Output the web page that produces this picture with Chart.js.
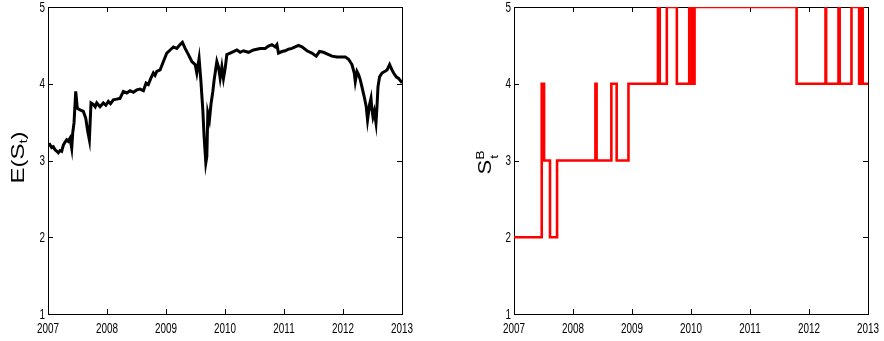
<!DOCTYPE html>
<html>
<head>
<meta charset="utf-8">
<script src="https://cdn.jsdelivr.net/npm/chart.js@4"></script>
<style>
  html, body { margin: 0; padding: 0; background: #fff; }
  #wrap { position: relative; width: 884px; height: 341px; }
  canvas { position: absolute; top: 0; }
  #chartExp { left: 0; }
  #chartState { left: 442px; }
</style>
</head>
<body>
<div id="wrap">
  <canvas id="chartExp" width="442" height="341"></canvas>
  <canvas id="chartState" width="442" height="341"></canvas>
</div>
<script>
/* ── Data ───────────────────────────────────────── */
const yearTicks = [2007, 2008, 2009, 2010, 2011, 2012, 2013];
const levelTicks = [1, 2, 3, 4, 5];

// E(S_t): expected state
const expTime = [
    2007.000, 2007.030, 2007.063, 2007.090, 2007.119, 2007.150, 2007.175, 2007.205, 2007.232, 2007.260,
    2007.290, 2007.317, 2007.344, 2007.373, 2007.402, 2007.419, 2007.441, 2007.470, 2007.497, 2007.543,
    2007.599, 2007.640, 2007.673, 2007.701, 2007.729, 2007.768, 2007.800, 2007.826, 2007.882, 2007.938,
    2007.980, 2008.023, 2008.060, 2008.108, 2008.165, 2008.221, 2008.277, 2008.335, 2008.391, 2008.447,
    2008.505, 2008.560, 2008.617, 2008.662, 2008.701, 2008.742, 2008.786, 2008.815, 2008.844, 2008.900,
    2008.956, 2009.014, 2009.070, 2009.126, 2009.183, 2009.239, 2009.278, 2009.324, 2009.380, 2009.438,
    2009.494, 2009.522, 2009.561, 2009.590, 2009.624, 2009.646, 2009.675, 2009.692, 2009.709, 2009.736,
    2009.765, 2009.794, 2009.816, 2009.862, 2009.889, 2009.918, 2009.947, 2009.974, 2010.003, 2010.031,
    2010.087, 2010.143, 2010.201, 2010.257, 2010.313, 2010.398, 2010.483, 2010.596, 2010.681, 2010.737,
    2010.795, 2010.851, 2010.880, 2010.907, 2010.964, 2011.020, 2011.076, 2011.134, 2011.190, 2011.246,
    2011.304, 2011.389, 2011.473, 2011.546, 2011.602, 2011.670, 2011.728, 2011.813, 2011.897, 2011.982,
    2012.038, 2012.094, 2012.152, 2012.191, 2012.208, 2012.237, 2012.264, 2012.293, 2012.321, 2012.360,
    2012.394, 2012.416, 2012.450, 2012.474, 2012.491, 2012.508, 2012.530, 2012.559, 2012.576, 2012.593,
    2012.620, 2012.661, 2012.705, 2012.747, 2012.790, 2012.830, 2012.858, 2012.903, 2012.942, 2012.983,
    2013.000
];
const expValue = [
    3.20, 3.21, 3.17, 3.18, 3.14, 3.12, 3.10, 3.13, 3.12, 3.20,
    3.24, 3.27, 3.25, 3.29, 3.16, 3.36, 3.49, 3.90, 3.68, 3.66,
    3.64, 3.55, 3.38, 3.27, 3.75, 3.73, 3.70, 3.75, 3.70, 3.75,
    3.72, 3.77, 3.74, 3.79, 3.80, 3.81, 3.90, 3.88, 3.91, 3.89,
    3.92, 3.93, 3.91, 4.01, 3.99, 4.07, 4.14, 4.11, 4.16, 4.18,
    4.29, 4.40, 4.44, 4.48, 4.46, 4.51, 4.54, 4.46, 4.38, 4.29,
    4.25, 4.14, 4.33, 4.05, 3.66, 3.31, 2.97, 3.05, 3.62, 3.53,
    3.75, 3.90, 4.05, 4.29, 4.22, 4.07, 4.22, 4.07, 4.20, 4.38,
    4.40, 4.42, 4.44, 4.41, 4.43, 4.41, 4.44, 4.46, 4.46, 4.49,
    4.51, 4.48, 4.51, 4.40, 4.42, 4.43, 4.45, 4.46, 4.48, 4.50,
    4.48, 4.43, 4.40, 4.36, 4.42, 4.41, 4.39, 4.36, 4.35, 4.35,
    4.35, 4.32, 4.25, 4.14, 4.03, 4.16, 4.12, 4.05, 3.96, 3.83,
    3.70, 3.53, 3.73, 3.81, 3.66, 3.57, 3.64, 3.49, 3.70, 3.96,
    4.09, 4.14, 4.16, 4.18, 4.25, 4.18, 4.14, 4.09, 4.07, 4.03,
    4.05
];

// S_t^B: regime state, each entry starts at its time (step chart)
const stateTime = [
    2007.00, 2007.47, 2007.51, 2007.61, 2007.73, 2008.38, 2008.40, 2008.65, 2008.74, 2008.94,
    2009.44, 2009.47, 2009.59, 2009.76, 2009.97, 2009.99, 2010.01, 2010.03, 2010.06, 2011.79,
    2012.28, 2012.29, 2012.50, 2012.52, 2012.72, 2012.85, 2012.89, 2012.91, 2013.00
];
const stateValue = [
    2, 4, 3, 2, 3, 4, 3, 4, 3, 4,
    5, 4, 5, 4, 5, 4, 5, 4, 5, 4,
    5, 4, 5, 4, 5, 4, 5, 4, 4
];

/* ── MATLAB-like frame, inward ticks, narrow labels ── */
const TICK_FONT = '15px "Liberation Sans", Arial, sans-serif';
const TICK_SQUEEZE = 0.66;

function matlabFrame(drawTitle) {
    return {
        id: 'matlabFrame',
        beforeDatasetsDraw(chart) {
            const { ctx, chartArea: a, scales: { x, y } } = chart;
            ctx.save();
            ctx.strokeStyle = '#000';
            ctx.lineWidth = 1;
            ctx.strokeRect(Math.round(a.left) + 0.5, Math.round(a.top) + 0.5,
                Math.round(a.right - a.left), Math.round(a.bottom - a.top));
            ctx.beginPath();
            yearTicks.forEach(v => {
                const px = Math.round(x.getPixelForValue(v)) + 0.5;
                ctx.moveTo(px, a.bottom); ctx.lineTo(px, a.bottom - 5);
                ctx.moveTo(px, a.top); ctx.lineTo(px, a.top + 5);
            });
            levelTicks.forEach(v => {
                const py = Math.round(y.getPixelForValue(v)) + 0.5;
                ctx.moveTo(a.left, py); ctx.lineTo(a.left + 5, py);
                ctx.moveTo(a.right, py); ctx.lineTo(a.right - 5, py);
            });
            ctx.stroke();
            ctx.restore();
        },
        afterDraw(chart) {
            const { ctx, chartArea: a, scales: { x, y } } = chart;
            ctx.save();
            ctx.fillStyle = '#000';
            ctx.font = TICK_FONT;
            yearTicks.forEach(v => {
                ctx.save();
                ctx.translate(x.getPixelForValue(v), a.bottom + 19);
                ctx.scale(TICK_SQUEEZE, 1);
                ctx.textAlign = 'center';
                ctx.textBaseline = 'alphabetic';
                ctx.fillText(String(v), 0, 0);
                ctx.restore();
            });
            levelTicks.forEach(v => {
                ctx.save();
                ctx.translate(a.left - 3, y.getPixelForValue(v) + 0.5);
                ctx.scale(TICK_SQUEEZE, 1);
                ctx.textAlign = 'right';
                ctx.textBaseline = 'middle';
                ctx.fillText(String(v), 0, 0);
                ctx.restore();
            });
            ctx.restore();
            drawTitle(ctx, a);
        }
    };
}

function titleExp(ctx, a) {
    const big = '24px "Liberation Sans", Arial, sans-serif';
    const small = '15px "Liberation Sans", Arial, sans-serif';
    ctx.save();
    ctx.translate(17, (a.top + a.bottom) / 2 - 3);
    ctx.rotate(-Math.PI / 2);
    ctx.scale(1, 0.74);
    ctx.fillStyle = '#000';
    ctx.textBaseline = 'alphabetic';
    ctx.textAlign = 'left';
    ctx.font = big;
    const w1 = ctx.measureText('E(S').width;
    const w3 = ctx.measureText(')').width;
    ctx.font = small;
    const w2 = ctx.measureText('t').width;
    let cx = -(w1 + w2 + w3) / 2;
    ctx.font = big;
    ctx.fillText('E(S', cx, 9); cx += w1;
    ctx.font = small;
    ctx.fillText('t', cx, 14); cx += w2;
    ctx.font = big;
    ctx.fillText(')', cx, 9);
    ctx.restore();
}

function titleState(ctx, a) {
    const big = '22px "Liberation Sans", Arial, sans-serif';
    const small = '14px "Liberation Sans", Arial, sans-serif';
    ctx.save();
    ctx.translate(a.left - 29, (a.top + a.bottom) / 2 + 2);
    ctx.rotate(-Math.PI / 2);
    ctx.scale(1, 0.8);
    ctx.fillStyle = '#000';
    ctx.textBaseline = 'alphabetic';
    ctx.textAlign = 'left';
    ctx.font = big;
    const wS = ctx.measureText('S').width;
    ctx.font = small;
    const wB = ctx.measureText('B').width;
    let cx = -(wS + wB) / 2;
    ctx.font = big;
    ctx.fillText('S', cx, 8); cx += wS;
    ctx.font = small;
    ctx.fillText('B', cx, -1);
    ctx.fillText('t', cx + 1, 16);
    ctx.restore();
}

function baseOptions(padding) {
    return {
        responsive: false,
        animation: false,
        layout: { padding },
        plugins: { legend: { display: false }, tooltip: { enabled: false } },
        scales: {
            x: { type: 'linear', min: 2007, max: 2013, display: false },
            y: { type: 'linear', min: 1, max: 5, display: false }
        }
    };
}

new Chart(document.getElementById('chartExp').getContext('2d'), {
    type: 'line',
    data: {
        datasets: [{
            data: expTime.map((t, i) => ({ x: t, y: expValue[i] })),
            borderColor: '#000',
            borderWidth: 3,
            pointRadius: 0,
            tension: 0
        }]
    },
    options: baseOptions({ left: 48, right: 40, top: 7, bottom: 27 }),
    plugins: [matlabFrame(titleExp)]
});

new Chart(document.getElementById('chartState').getContext('2d'), {
    type: 'line',
    data: {
        datasets: [{
            data: stateTime.map((t, i) => ({ x: t, y: stateValue[i] })),
            borderColor: '#ff0000',
            borderWidth: 2.6,
            pointRadius: 0,
            stepped: 'before'
        }]
    },
    options: baseOptions({ left: 72, right: 16, top: 7, bottom: 27 }),
    plugins: [matlabFrame(titleState)]
});
</script>
</body>
</html>
